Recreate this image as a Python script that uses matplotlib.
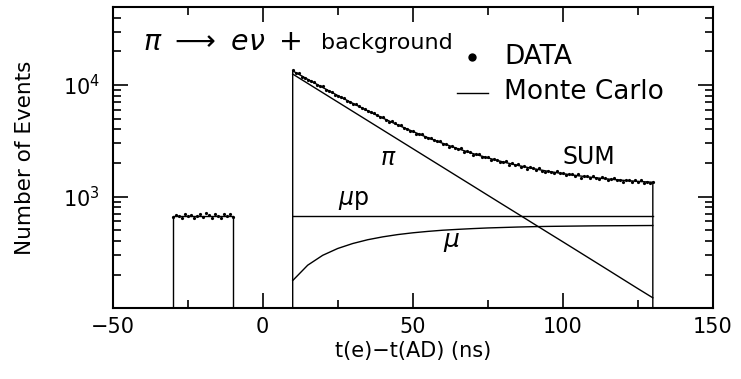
import numpy as np
import matplotlib
matplotlib.use("Agg")
import matplotlib.pyplot as plt
from matplotlib.ticker import MultipleLocator, LogLocator, NullFormatter

plt.rcParams['font.family'] = ['DejaVu Sans']
plt.rcParams['mathtext.fontset'] = 'dejavusans'

# axis ranges
x_lim = (-50, 150)
y_lim = (101, 5e4)

# Monte Carlo components, every 5 ns from 10 to 130
t_mc = [10, 15, 20, 25, 30, 35, 40, 45, 50, 55, 60, 65, 70, 75, 80, 85,
        90, 95, 100, 105, 110, 115, 120, 125, 130]
pi_mc = [12540, 10346, 8536, 7043, 5811, 4794, 3955, 3263, 2692, 2221, 1833,
         1512, 1248, 1029, 849, 701, 578, 477, 394, 325, 268, 221, 182, 150, 124]
mu_mc = [177, 243, 298, 343, 380, 411, 436, 457, 474, 488, 500, 509, 517,
         524, 529, 534, 538, 541, 543, 545, 547, 548, 549, 550, 551]
sum_mc = [13387, 11259, 9504, 8056, 6861, 5875, 5061, 4390, 3836, 3379, 3003,
          2691, 2435, 2223, 2048, 1905, 1786, 1688, 1607, 1540, 1485, 1439,
          1401, 1370, 1345]
mup_level = 670
mup_t = [10, 130]

# flat background window before the pion stop
bkg_t = [-30, -10]
bkg_level = 670

# measured events, 1 ns bins
t_bkg = list(range(-30, -9))
n_bkg = [655, 690, 672, 648, 700, 664, 681, 640, 676, 695, 660, 712, 685,
         650, 703, 668, 640, 694, 672, 705, 662]

t_data = list(range(10, 131))
n_data = [13521, 12864, 12713, 11918, 11676, 11034, 10969, 10676, 10076, 9801,
          9704, 9045, 8927, 8697, 8166, 8000, 7868, 7724, 7231, 7082,
          6710, 6735, 6483, 6197, 6160, 5793, 5688, 5641, 5384, 5118,
          5122, 4888, 4662, 4731, 4537, 4346, 4378, 4140, 4074, 3880,
          3890, 3660, 3647, 3630, 3433, 3322, 3351, 3231, 3129, 3147,
          2967, 2962, 2796, 2837, 2754, 2669, 2707, 2534, 2546, 2514,
          2379, 2399, 2387, 2278, 2256, 2281, 2141, 2166, 2146, 2052,
          2048, 2075, 1937, 1981, 1919, 1943, 1845, 1864, 1775, 1839,
          1802, 1742, 1793, 1713, 1668, 1712, 1673, 1628, 1688, 1616,
          1638, 1549, 1589, 1584, 1537, 1579, 1479, 1522, 1529, 1465,
          1518, 1463, 1443, 1501, 1454, 1404, 1445, 1461, 1399, 1408,
          1360, 1419, 1397, 1359, 1408, 1363, 1410, 1330, 1366, 1337,
          1365]

fig = plt.figure(figsize=(7.41, 3.79), dpi=100)
ax = fig.add_axes([0.152, 0.188, 0.81, 0.7935])
ax.set_yscale('log')
ax.set_xlim(*x_lim)
ax.set_ylim(*y_lim)

lw = 1.0
# sum curve closed down to the axis at both ends
ax.plot([t_mc[0]] + t_mc + [t_mc[-1]], [y_lim[0]] + sum_mc + [y_lim[0]],
        color='black', lw=lw)
ax.plot(t_mc, pi_mc, color='black', lw=lw)
ax.plot(t_mc, mu_mc, color='black', lw=lw)
ax.plot(mup_t, [mup_level, mup_level], color='black', lw=lw)
ax.plot([bkg_t[0], bkg_t[0], bkg_t[1], bkg_t[1]],
        [y_lim[0], bkg_level, bkg_level, y_lim[0]], color='black', lw=lw)

ax.plot(t_data, n_data, 'o', color='black', ms=2.3, mew=0)
ax.plot(t_bkg, n_bkg, 'o', color='black', ms=2.3, mew=0)

# ticks
ax.xaxis.set_major_locator(MultipleLocator(50))
ax.xaxis.set_minor_locator(MultipleLocator(25))
ax.yaxis.set_major_locator(LogLocator(base=10))
ax.yaxis.set_minor_locator(LogLocator(base=10, subs=np.arange(2, 10)))
ax.yaxis.set_minor_formatter(NullFormatter())
ax.tick_params(which='both', direction='in', top=True, right=True, width=1.2)
ax.tick_params(which='major', length=11, labelsize=15)
ax.tick_params(which='minor', length=5.5)
ax.tick_params(axis='x', which='major', pad=7)
ax.tick_params(axis='y', which='major', pad=9)
for s in ax.spines.values():
    s.set_linewidth(1.5)

ax.set_xlabel('t(e)\u2212t(AD) (ns)', fontsize=15)
ax.set_ylabel('Number of Events', fontsize=15.5)
ax.xaxis.set_label_coords(0.5, -0.11)
ax.yaxis.set_label_coords(-0.13, 0.5)

# annotations
tr = ax.transAxes
ax.text(0.05, 0.856, r'$\pi\ \longrightarrow\ e\nu\ +$', fontsize=20.5,
        transform=tr, va='baseline')
ax.text(0.347, 0.859, 'background', fontsize=16, transform=tr, va='baseline')
ax.plot([0.598], [0.834], 'o', color='black', ms=6, mew=0, transform=tr)
ax.text(0.652, 0.835, 'DATA', fontsize=19, transform=tr, va='center')
ax.plot([0.574, 0.626], [0.714, 0.714], color='black', lw=lw, transform=tr)
ax.text(0.652, 0.717, 'Monte Carlo', fontsize=19, transform=tr, va='center')
ax.text(0.75, 0.478, 'SUM', fontsize=17, transform=tr, va='baseline')
ax.text(0.446, 0.475, r'$\pi$', fontsize=17, transform=tr, va='baseline')
ax.text(0.375, 0.342, r'$\mu$p', fontsize=17, transform=tr, va='baseline')
ax.text(0.551, 0.201, r'$\mu$', fontsize=18, transform=tr, va='baseline')

fig.savefig('out.png', dpi=100)
